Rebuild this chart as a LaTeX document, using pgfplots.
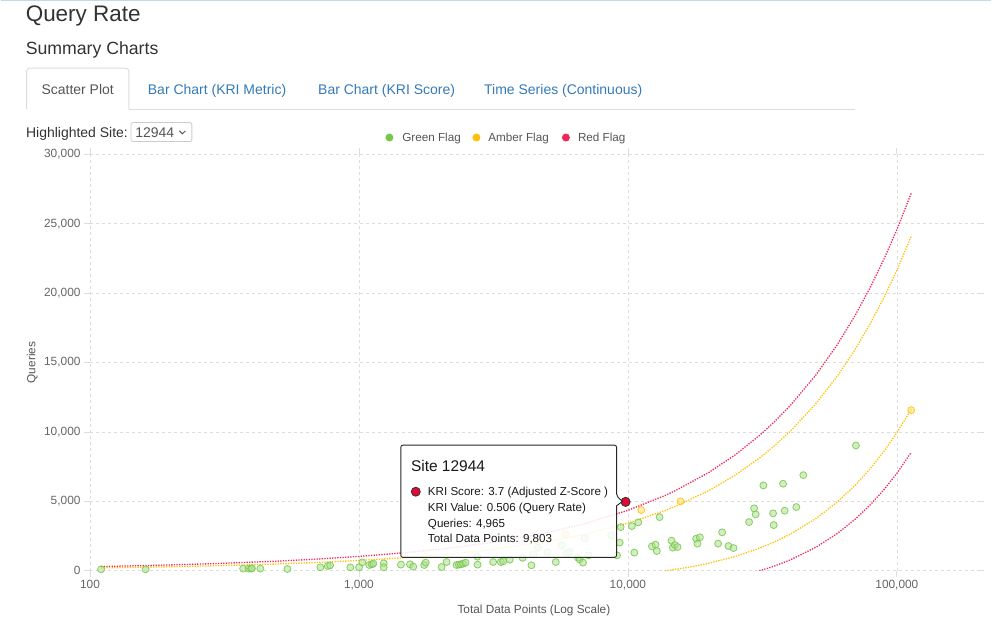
\documentclass[border=0pt]{standalone}
\usepackage{fontspec}
\setmainfont{Liberation Sans}
\usepackage{pgfplots}
\pgfplotsset{compat=1.18}

\definecolor{txt}{RGB}{51,51,51}
\definecolor{txtgray}{RGB}{85,85,85}
\definecolor{linkblue}{RGB}{51,122,183}
\definecolor{gridgray}{RGB}{221,221,221}
\definecolor{tickgray}{RGB}{102,102,102}
\definecolor{flaggreen}{RGB}{118,200,72}
\definecolor{flagamber}{RGB}{255,193,7}
\definecolor{flagred}{RGB}{240,40,90}
\definecolor{hilite}{RGB}{225,10,55}
\definecolor{topline}{RGB}{190,220,230}

\newcommand{\fs}[1]{\fontsize{#1}{#1}\selectfont}

\begin{document}
\begin{tikzpicture}
\begin{scope}[x=1pt,y=1pt]
  \path[use as bounding box] (0,0) rectangle (992,626);
\end{scope}

\begin{axis}[
  at={(89.5pt,54.5pt)}, anchor=south west,
  scale only axis, width=888.9pt, height=417pt,
  xmode=log, xmin=100, xmax=200000, ymin=0, ymax=30000,
  axis line style={draw=none},
  xtick={100,1000,10000,100000},
  xticklabels={100,{1,000},{10,000},{100,000}},
  ytick={0,5000,10000,15000,20000,25000,30000},
  yticklabels={0,{5,000},{10,000},{15,000},{20,000},{25,000},{30,000}},
  scaled y ticks=false,
  xminorticks=false,
  grid=major,
  major grid style={gridgray, dash pattern=on 3pt off 3pt, line width=0.7pt},
  tick align=outside, major tick length=6pt,
  tick style={gridgray, line width=0.8pt},
  ticklabel style={font=\fs{11.9}, text=tickgray},
  xlabel={Total Data Points (Log Scale)},
  ylabel={Queries},
  xlabel style={at={(axis description cs:0.5,-0.0947)}, anchor=center, font=\fs{11.8}, text=txtgray},
  ylabel style={at={(axis description cs:-0.065,0.5)}, anchor=center, font=\fs{11.8}, text=txtgray},
]

% funnel limits
\addplot[flagred, line width=1.3pt, dash pattern=on 1.3pt off 1.3pt] coordinates {
  (110,308) (150,364) (200,424) (300,528) (500,699) (700,845) (1000,1036)
  (1500,1312) (2000,1557) (3000,1994) (5000,2752) (7000,3428) (10000,4355)
  (13700,5413) (15000,5769) (20000,7085) (25000,8338) (30800,9736)
  (35000,10722) (40000,11870) (50000,14105) (60000,16277) (70000,18402)
  (80000,20489) (90000,22545) (100000,24575) (113000,27182)};
\addplot[flagamber, line width=1.3pt, dash pattern=on 1.3pt off 1.3pt] coordinates {
  (110,211) (150,250) (200,293) (300,368) (500,493) (700,600) (1000,743)
  (1500,954) (2000,1143) (3000,1487) (5000,2098) (7000,2654) (10000,3430)
  (13700,4330) (15000,4636) (20000,5776) (25000,6875) (30800,8113)
  (35000,8991) (40000,10020) (50000,12037) (60000,14012) (70000,15955)
  (80000,17873) (90000,19770) (100000,21650) (113000,24073)};
\addplot[flagamber, line width=1.3pt, dash pattern=on 1.3pt off 1.3pt] coordinates {
  (13700,0) (14000,23) (15000,104) (16000,188) (17500,318) (20000,544)
  (25000,1025) (30800,1619) (35000,2069) (40000,2620) (50000,3763)
  (60000,4948) (70000,6165) (80000,7407) (90000,8670) (100000,9950)
  (113000,11635)};
\addplot[flagred, line width=1.3pt, dash pattern=on 1.3pt off 1.3pt] coordinates {
  (30800,0) (32000,92) (33500,214) (35000,339) (40000,770) (50000,1695)
  (60000,2683) (70000,3718) (80000,4791) (90000,5895) (100000,7025)
  (113000,8526)};

% green flag sites
\addplot[only marks, mark=*, mark size=3.5pt,
  mark options={draw=flaggreen, draw opacity=0.85, line width=0.8pt, fill=flaggreen!60, fill opacity=0.55}] coordinates {
  (110,108) (161,108) (371,158) (389,158) (397,158) (400,180) (430,158)
  (542,130) (719,252) (766,345) (781,396) (929,252) (1001,252) (1029,611)
  (1093,417) (1116,468) (1131,518) (1236,540) (1236,252) (1433,446)
  (1548,468) (1592,302) (1749,417) (1770,590) (2029,273) (2118,633)
  (2307,417) (2353,446) (2393,468) (2440,518) (2491,590) (2761,446)
  (2755,1022) (3155,633) (3369,633) (3436,683) (3638,806) (4060,935)
  (4379,396) (4452,1187) (4634,1669) (5022,1309) (5391,633) (5680,1834)
  (5906,1237) (6075,1352) (6516,950) (6617,827) (6808,590) (6909,2338)
  (7141,1115) (8676,2554) (9104,1115) (9316,2029) (9396,3151) (10347,3223)
  (10563,1309) (10930,3489) (12284,1763) (12669,1885) (12810,1424)
  (13113,3870) (14530,2173) (14690,1669) (14940,1856) (15290,1712)
  (17940,2316) (18140,1957) (18510,2410) (21650,1957) (22410,2770)
  (23650,1784) (24690,1640) (28220,3511) (29460,4496) (29860,4065)
  (31890,6151) (34650,4137) (34830,3295) (37750,6273) (38270,4331)
  (42290,4590) (44900,6892) (70440,9028)};

% amber flag sites
\addplot[only marks, mark=*, mark size=3.5pt,
  mark options={draw=flagamber, draw opacity=0.85, line width=0.8pt, fill=flagamber!55, fill opacity=0.6}] coordinates {
  (5858,2626) (11210,4374) (15690,5000) (113000,11570)};

% highlighted site 12944
\addplot[only marks, mark=*, mark size=4.6pt,
  mark options={draw=black!80, line width=0.8pt, fill=hilite}] coordinates {(9803,4965)};
\end{axis}

\begin{scope}[x=1pt,y=1pt]
  % page header
  \draw[topline, line width=1.2pt] (0,625.4) -- (992,625.4);
  \node[anchor=base west, inner sep=0, text=txt, font=\fs{22.5}] at (25,604) {Query Rate};
  \node[anchor=base west, inner sep=0, text=txt, font=\fs{17.7}] at (25,571.5) {Summary Charts};

  % tabs
  \draw[gridgray, line width=1pt, rounded corners=3pt] (26,516.7) -- (26,557.7) -- (128.4,557.7) -- (128.4,516.7);
  \draw[gridgray, line width=1pt] (128.4,516.7) -- (855,516.7);
  \node[anchor=base west, inner sep=0, text=txtgray, font=\fs{14}] at (40.8,531.5) {Scatter Plot};
  \node[anchor=base west, inner sep=0, text=linkblue, font=\fs{14}] at (147.3,531.5) {Bar Chart (KRI Metric)};
  \node[anchor=base west, inner sep=0, text=linkblue, font=\fs{14}] at (317.8,531.5) {Bar Chart (KRI Score)};
  \node[anchor=base west, inner sep=0, text=linkblue, font=\fs{14}] at (484,531.5) {Time Series (Continuous)};

  % site selector
  \node[anchor=base west, inner sep=0, text=txt, font=\fs{14}] at (25.3,488.5) {Highlighted Site:};
  \draw[black!20, line width=0.8pt, rounded corners=2pt] (130.5,484.3) rectangle (191.5,503.3);
  \node[anchor=base west, inner sep=0, text=txtgray, font=\fs{14}] at (134.7,488.5) {12944};
  \draw[txtgray, line width=1pt] (179,495) -- (182,492) -- (185,495);

  % legend
  \fill[flaggreen] (389.3,488.3) circle (4);
  \node[anchor=base west, inner sep=0, text=txtgray, font=\fs{11.7}] at (402,484) {Green Flag};
  \fill[flagamber] (476.4,488.3) circle (4);
  \node[anchor=base west, inner sep=0, text=txtgray, font=\fs{11.7}] at (488.2,484) {Amber Flag};
  \fill[flagred] (566,488.3) circle (4);
  \node[anchor=base west, inner sep=0, text=txtgray, font=\fs{11.7}] at (577.9,484) {Red Flag};

  % tooltip
  \draw[fill=white, fill opacity=0.86, draw=black!85, line width=0.9pt, rounded corners=2pt]
    (400.7,180.3) -- (616.7,180.3) -- (616.7,129.5) [sharp corners] -- (622.5,124) -- (616.7,119.5)
    [rounded corners=2pt] -- (616.7,68) -- (400.7,68) -- cycle;
  \node[anchor=base west, inner sep=0, text=black!90, font=\fs{15.5}] at (410.7,154) {Site 12944};
  \filldraw[fill=hilite, draw=black!80, line width=0.8pt] (415.7,133.7) circle (4.5);
  \node[anchor=base west, inner sep=0, text=black!90, font=\fs{11.6}] at (427.7,130) {KRI Score: 3.7 (Adjusted Z-Score )};
  \node[anchor=base west, inner sep=0, text=black!90, font=\fs{11.6}] at (427.7,114) {KRI Value: 0.506 (Query Rate)};
  \node[anchor=base west, inner sep=0, text=black!90, font=\fs{11.6}] at (427.7,98.2) {Queries: 4,965};
  \node[anchor=base west, inner sep=0, text=black!90, font=\fs{11.6}] at (427.7,82.4) {Total Data Points: 9,803};
\end{scope}
\end{tikzpicture}
\end{document}
